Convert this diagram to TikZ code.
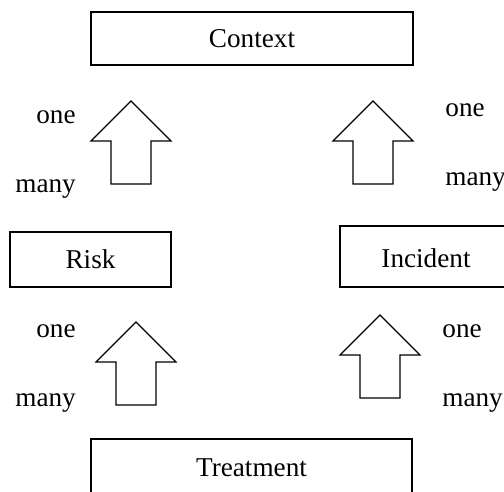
\documentclass[tikz,border=0pt]{standalone}
\usepackage{fontspec}
\setmainfont{Liberation Serif}
\usepackage{tikz}

\tikzset{
  box/.style={draw, line width=0.7pt, inner sep=0pt, font=\fontsize{13.6}{16}\selectfont},
  card/.style={anchor=base west, inner sep=0pt, font=\fontsize{13.6}{16}\selectfont},
  uparrow/.pic={
    \draw[line width=0.6pt, line join=miter]
      (0,0) -- (40,40) -- (20,40) -- (20,83) -- (-20,83) -- (-20,40) -- (-40,40) -- cycle;
  }
}

\begin{document}
\begin{tikzpicture}[x=0.5pt, y=-0.5pt]
  \useasboundingbox (0,0) rectangle (504,492);
  \clip (0,0) rectangle (504,492);

  % boxes
  \node[box, minimum width=161pt, minimum height=26.5pt] (context) at (252,38.5) {Context};
  \node[box, minimum width=80.5pt, minimum height=27.5pt] (risk) at (90.5,259.5) {Risk};
  \node[box, minimum width=86pt, minimum height=30.5pt, text height=11.5pt, text depth=0pt] (incident) at (426,256.5) {Incident};
  \node[box, minimum width=160.5pt, minimum height=29pt] (treatment) at (251.5,468) {Treatment};

  % block arrows
  \pic (riskup) at (131,101) {uparrow};
  \pic (incidentup) at (373,101) {uparrow};
  \pic (treatleft) at (136,322) {uparrow};
  \pic (treatright) at (380,315) {uparrow};

  % multiplicities
  \node[card] (one1) at (36,124) {one};
  \node[card] (many1) at (15,193) {many};
  \node[card] (one2) at (445,117) {one};
  \node[card] (many2) at (445,186) {many};
  \node[card] (one3) at (36,337) {one};
  \node[card] (many3) at (15,406) {many};
  \node[card] (one4) at (442,337) {one};
  \node[card] (many4) at (442,406) {many};
\end{tikzpicture}
\end{document}
